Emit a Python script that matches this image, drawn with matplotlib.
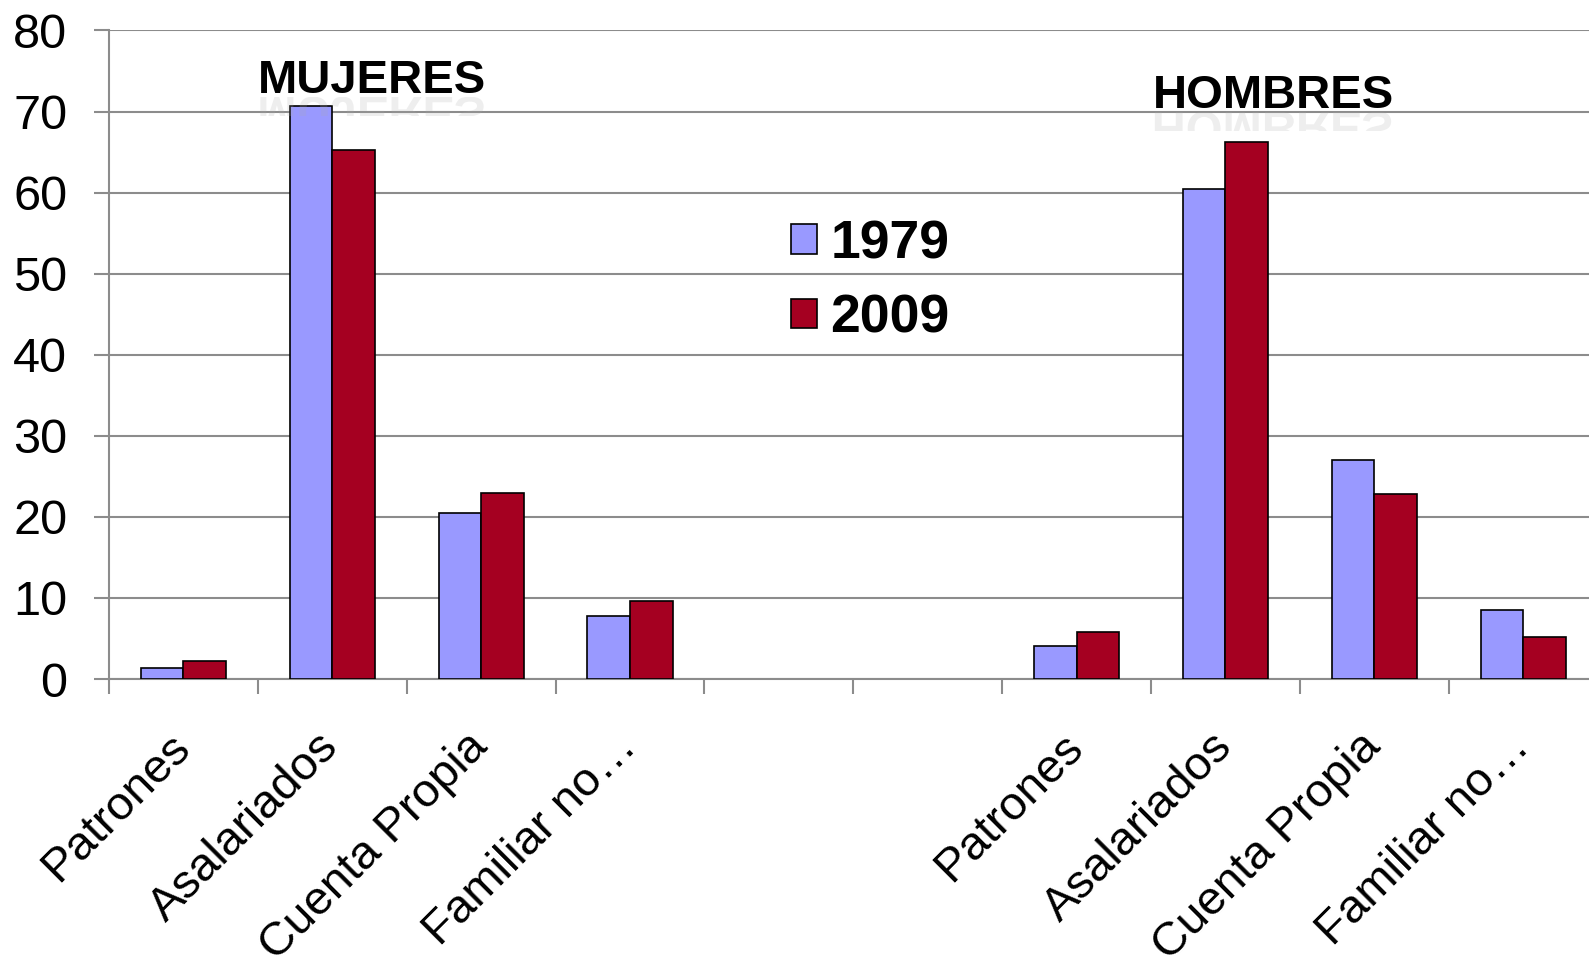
import numpy as np
import matplotlib
matplotlib.use('Agg')
from matplotlib import pyplot as plt
from matplotlib.textpath import TextPath
from matplotlib.patches import PathPatch, Rectangle
from matplotlib.font_manager import FontProperties
from matplotlib.transforms import Affine2D, IdentityTransform

# data
categories = ['Patrones', 'Asalariados', 'Cuenta Propia', 'Familiar no…']
mujeres_1979 = [1.3, 70.7, 20.5, 7.8]
mujeres_2009 = [2.2, 65.2, 23.0, 9.6]
hombres_1979 = [4.1, 60.5, 27.0, 8.5]
hombres_2009 = [5.8, 66.3, 22.8, 5.2]
series_names = ['1979', '2009']
group_titles = ['MUJERES', 'HOMBRES']

plt.rcParams['font.family'] = ['Liberation Sans', 'DejaVu Sans']

c1979 = '#9999FF'
c2009 = '#A50021'
grid_col = '#8c8c8c'

fig = plt.figure(figsize=(15.89, 9.63), dpi=100)
ax = fig.add_axes([0.0686, 0.2949, 0.9368, 0.6735])

# slot positions: 4 mujeres, 2 empty, 4 hombres
x_muj = np.arange(4)
x_hom = np.arange(6, 10)
w = 0.286

ax.bar(x_muj - w / 2, mujeres_1979, w, color=c1979, edgecolor='black', linewidth=1.2, zorder=3,
       label=series_names[0])
ax.bar(x_muj + w / 2, mujeres_2009, w, color=c2009, edgecolor='black', linewidth=1.2, zorder=3,
       label=series_names[1])
ax.bar(x_hom - w / 2, hombres_1979, w, color=c1979, edgecolor='black', linewidth=1.2, zorder=3)
ax.bar(x_hom + w / 2, hombres_2009, w, color=c2009, edgecolor='black', linewidth=1.2, zorder=3)

ax.set_xlim(-0.5, 9.5)
ax.set_ylim(0, 80)
ax.set_yticks(np.arange(0, 81, 10))
ax.yaxis.grid(True, color=grid_col, linewidth=1.5, zorder=0)
ax.set_axisbelow(True)

# category labels near slot centers (nudged left like the original), tick marks at slot boundaries
label_pos = np.concatenate([x_muj, [4, 5], x_hom]) - 0.105
ax.set_xticks(label_pos)
ax.set_xticklabels(categories + ['', ''] + categories, rotation=45, ha='right',
                   rotation_mode='anchor', fontsize=34)
ax.set_xticks(np.arange(-0.5, 9.0, 1.0), minor=True)
ax.tick_params(axis='x', which='major', length=0, pad=33)
ax.tick_params(axis='x', which='minor', length=11, width=1.5, color=grid_col, direction='out')
ax.tick_params(axis='y', length=11, width=1.5, color=grid_col, labelsize=35, pad=19)

for side in ['top', 'right']:
    ax.spines[side].set_visible(False)
for side in ['left', 'bottom']:
    ax.spines[side].set_color(grid_col)
    ax.spines[side].set_linewidth(1.5)

leg = ax.legend(loc='center left', bbox_to_anchor=(0.444, 0.613), frameon=False,
                prop={'size': 38.5, 'weight': 'bold'}, handlelength=0.48, handleheight=0.48,
                handletextpad=0.25, labelspacing=0.45, borderaxespad=0)

# group titles with a faint reflection
title_pos = [(372, 870), (1273, 855)]
fp = FontProperties(family='Liberation Sans', weight='bold')
for (tx, ty), title in zip(title_pos, group_titles):
    fig.text(tx / 1589, ty / 963, title, ha='center', va='baseline', fontsize=34,
             fontweight='bold', color='black')
    size_px = 34 * 100 / 72
    tp = TextPath((0, 0), title, size=size_px, prop=fp)
    ext = tp.get_extents()
    x0 = tx - (ext.x0 + ext.x1) / 2
    tr = Affine2D().scale(1, -1).translate(x0, ty - 4)
    patch = PathPatch(tr.transform_path(tp), facecolor='#aaaaaa', edgecolor='none',
                      alpha=0.2, transform=IdentityTransform())
    clip = Rectangle((x0 - 5, ty - 4 - size_px * 0.4), ext.width + 10, size_px * 0.4,
                     transform=IdentityTransform(), facecolor='none', edgecolor='none')
    fig.add_artist(clip)
    patch.set_clip_path(clip)
    fig.add_artist(patch)

fig.savefig('out.png', dpi=100)
